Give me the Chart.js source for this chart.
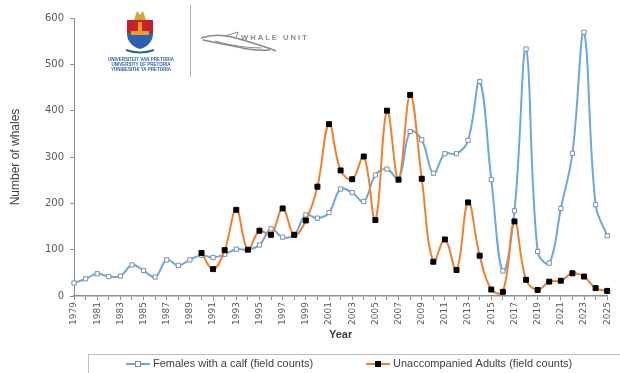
<!DOCTYPE html>
<html>
<head>
<meta charset="utf-8">
<script src="https://cdn.jsdelivr.net/npm/chart.js@4.4.1/dist/chart.umd.min.js"></script>
<style>
  html, body { margin: 0; padding: 0; background: #fff; }
  #wrap { width: 620px; height: 373px; position: relative; }
</style>
</head>
<body>
<div id="wrap"><canvas id="whaleChart"></canvas></div>
<script>
// Survey years
const years = [];
for (let y = 1979; y <= 2025; y++) years.push(String(y));

// Females with a calf (field counts), 1979-2025
const femalesWithCalf = [28, 37, 48, 42, 43, 67, 55, 41, 78, 66,
  78, 88, 83, 90, 101, 100, 110, 145, 127, 132,
  175, 168, 180, 231, 223, 204, 261, 274, 253, 355,
  337, 265, 307, 307, 336, 463, 251, 54, 184, 533,
  96, 71, 189, 308, 569, 197, 130];

// Unaccompanied adults (field counts), only counted from 1990
const unaccompaniedAdults = [null, null, null, null, null, null, null, null, null, null, null,
  93, 58, 99, 186, 100, 141, 132, 189, 132, 163,
  236, 371, 271, 252, 301, 164, 400, 251, 434, 253,
  74, 122, 56, 202, 87, 14, 9, 161, 35, 13,
  31, 33, 49, 42, 17, 11];

const yTicks = [0, 100, 200, 300, 400, 500, 600];

const seriesNames = ['Females with a calf (field counts)', 'Unaccompanied Adults (field counts)'];
const blue = '#6DA7DB';
const orange = '#EE8030';

// logos in the top-left corner
const logos = {
  id: 'logos',
  beforeDraw(chart) {
    const c = chart.ctx;
    c.save();
    // crest
    c.fillStyle = '#D4A437';
    c.beginPath();
    c.moveTo(134, 20); c.lineTo(137, 11); c.lineTo(140, 15); c.lineTo(143, 11); c.lineTo(146, 20);
    c.closePath(); c.fill();
    c.fillStyle = '#C8202F';
    c.beginPath();
    c.moveTo(127, 20); c.lineTo(153, 20); c.lineTo(153, 33); c.lineTo(127, 33); c.closePath(); c.fill();
    c.fillStyle = '#2A62AE';
    c.beginPath();
    c.moveTo(127, 33); c.lineTo(153, 33); c.quadraticCurveTo(153, 45, 140, 49);
    c.quadraticCurveTo(127, 45, 127, 33); c.closePath(); c.fill();
    c.fillStyle = '#EE9B2E';
    c.fillRect(131, 31, 18, 4);
    c.fillRect(138, 22, 4, 9);
    c.strokeStyle = '#2A62AE'; c.lineWidth = 2;
    c.beginPath(); c.moveTo(126, 50); c.quadraticCurveTo(140, 55, 154, 50); c.stroke();
    c.fillStyle = '#2E5FA8';
    c.font = 'bold 4.5px "Liberation Sans"';
    c.textAlign = 'center';
    c.fillText('UNIVERSITEIT VAN PRETORIA', 141, 61);
    c.fillText('UNIVERSITY OF PRETORIA', 141, 66);
    c.fillText('YUNIBESITHI YA PRETORIA', 141, 71);
    // divider
    c.strokeStyle = '#B5B5B5'; c.lineWidth = 1;
    c.beginPath(); c.moveTo(190.5, 5); c.lineTo(190.5, 77); c.stroke();
    // whale
    c.strokeStyle = '#8A8A8A'; c.lineWidth = 1.4;
    c.beginPath();
    c.moveTo(201, 38); c.quadraticCurveTo(215, 33, 232, 37);
    c.quadraticCurveTo(250, 42, 262, 46); c.quadraticCurveTo(272, 49, 276, 51);
    c.stroke();
    c.beginPath();
    c.moveTo(203, 40); c.quadraticCurveTo(222, 44, 238, 47); c.quadraticCurveTo(255, 51, 270, 50);
    c.stroke();
    c.lineWidth = 1;
    c.beginPath(); c.moveTo(215, 41); c.quadraticCurveTo(240, 48, 262, 48); c.stroke();
    c.beginPath(); c.moveTo(225, 36); c.lineTo(238, 32); c.lineTo(236, 38); c.stroke();
    c.fillStyle = '#8C8C8C';
    c.font = 'bold 7.5px "Liberation Sans"';
    c.textAlign = 'left';
    c.fillText('W H A L E   U N I T', 241, 40);
    c.restore();
  }
};

// boxed legend below the axis title
const boxedLegend = {
  id: 'boxedLegend',
  afterDraw(chart) {
    const c = chart.ctx;
    c.save();
    c.strokeStyle = '#BFBFBF'; c.lineWidth = 1;
    c.strokeRect(88.5, 354.5, 540, 30);
    c.font = '11px "Liberation Sans"';
    c.fillStyle = '#404040';
    c.textBaseline = 'middle';
    const ty = 364;
    const items = [
      { x: 126, color: blue, fill: '#fff', edge: '#7D8FA8' },
      { x: 366, color: orange, fill: '#000', edge: '#000' }
    ];
    items.forEach((it, i) => {
      c.strokeStyle = it.color; c.lineWidth = 2;
      c.beginPath(); c.moveTo(it.x, ty); c.lineTo(it.x + 24, ty); c.stroke();
      c.fillStyle = it.fill; c.strokeStyle = it.edge; c.lineWidth = 1;
      c.fillRect(it.x + 9, ty - 3, 6, 6);
      c.strokeRect(it.x + 9.5, ty - 2.5, 5, 5);
      c.fillStyle = '#404040';
      c.fillText(seriesNames[i], it.x + 27, ty);
    });
    c.restore();
  }
};

const ctx = document.getElementById('whaleChart');
new Chart(ctx, {
  type: 'line',
  data: {
    labels: years,
    datasets: [{
      label: seriesNames[0],
      data: femalesWithCalf,
      borderColor: blue,
      borderWidth: 2,
      tension: 0.4,
      pointStyle: 'rect',
      pointRadius: 3,
      pointBackgroundColor: '#fff',
      pointBorderColor: '#7D8FA8',
      pointBorderWidth: 1,
      order: 1
    }, {
      label: seriesNames[1],
      data: unaccompaniedAdults,
      borderColor: orange,
      borderWidth: 2,
      tension: 0.4,
      pointStyle: 'rect',
      pointRadius: 3.5,
      pointBackgroundColor: '#000',
      pointBorderColor: '#000',
      pointBorderWidth: 1,
      order: 0
    }]
  },
  options: {
    responsive: true,
    maintainAspectRatio: false,
    animation: false,
    layout: { padding: { left: 0, right: 12, top: 18, bottom: 27 } },
    plugins: {
      legend: { display: false },
      tooltip: { enabled: false }
    },
    scales: {
      x: {
        offset: false,
        afterFit: s => { s.height = 50; },
        grid: { drawOnChartArea: false, tickLength: 4, color: '#8C8C8C' },
        border: { color: '#8C8C8C', width: 1.5 },
        ticks: {
          autoSkip: false,
          minRotation: 90,
          maxRotation: 90,
          padding: 2,
          color: '#595959',
          font: { family: 'DejaVu Sans', size: 9 },
          callback: (v, i) => (i % 2 === 0 ? years[i] : '')
        },
        title: {
          display: true,
          text: 'Year',
          color: '#404040',
          font: { family: 'Liberation Sans', size: 11, weight: 'bold' },
          padding: { top: 0, bottom: 4 }
        }
      },
      y: {
        min: 0,
        max: 600,
        afterFit: s => { s.width = 74; },
        afterBuildTicks: s => { s.ticks = yTicks.map(v => ({ value: v })); },
        grid: { drawOnChartArea: false, tickLength: 4, color: '#8C8C8C' },
        border: { color: '#8C8C8C', width: 1 },
        ticks: {
          padding: 6,
          color: '#595959',
          font: { family: 'DejaVu Sans', size: 10 }
        },
        title: {
          display: true,
          text: 'Number of whales',
          color: '#404040',
          font: { family: 'Liberation Sans', size: 12 },
          padding: { top: 8, bottom: 0 }
        }
      }
    }
  },
  plugins: [logos, boxedLegend]
});
</script>
</body>
</html>
